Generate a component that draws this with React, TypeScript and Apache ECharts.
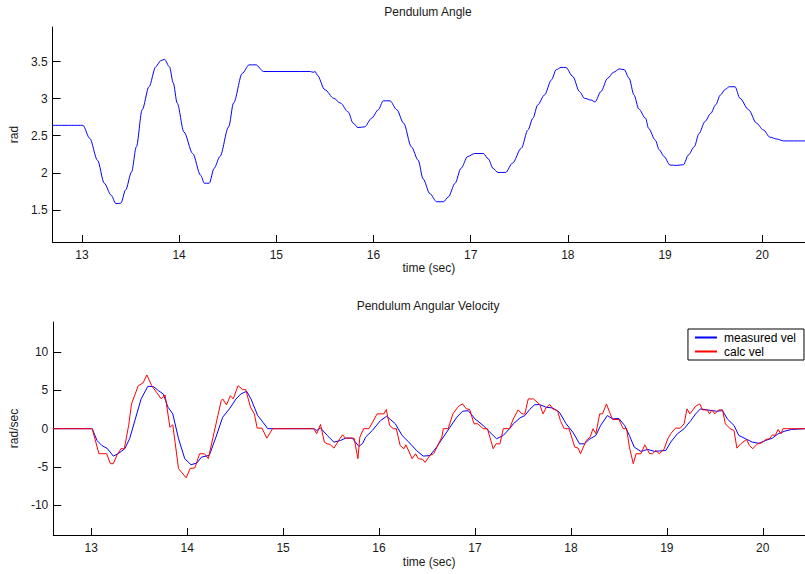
import React, { useEffect, useRef } from "react";
import * as echarts from "echarts";

// Pendulum angle (time sec, rad)
const angle: [number, number][] = [
  [12.6, 2.64], [13.01, 2.64], [13.08, 2.465], [13.16, 2.17], [13.23, 1.86], [13.3, 1.7], [13.35, 1.585],
  [13.4, 1.59], [13.45, 1.77], [13.51, 2.01], [13.56, 2.35], [13.62, 2.85], [13.69, 3.16], [13.76, 3.43],
  [13.81, 3.51], [13.85, 3.53], [13.9, 3.43], [13.94, 3.21], [13.98, 2.94], [14.05, 2.55], [14.14, 2.26],
  [14.22, 1.97], [14.26, 1.86], [14.31, 1.86], [14.36, 2.06], [14.42, 2.22], [14.51, 2.62], [14.56, 2.94],
  [14.65, 3.34], [14.72, 3.455], [14.79, 3.455], [14.87, 3.365], [15.35, 3.365], [15.38, 3.355], [15.4, 3.365],
  [15.42, 3.32], [15.5, 3.12], [15.59, 3.005], [15.66, 2.94], [15.74, 2.82], [15.79, 2.67], [15.84, 2.61],
  [15.91, 2.62], [15.98, 2.735], [16.05, 2.85], [16.1, 2.97], [16.17, 2.97], [16.24, 2.85], [16.31, 2.67],
  [16.39, 2.35], [16.46, 2.17], [16.51, 1.92], [16.58, 1.72], [16.65, 1.61], [16.72, 1.61], [16.77, 1.675],
  [16.84, 1.86], [16.9, 2.06], [16.97, 2.22], [17.04, 2.26], [17.13, 2.26], [17.18, 2.19], [17.23, 2.06],
  [17.28, 2.005], [17.36, 2.005], [17.43, 2.13], [17.52, 2.33], [17.59, 2.58], [17.64, 2.735], [17.69, 2.915],
  [17.76, 3.05], [17.83, 3.25], [17.88, 3.39], [17.93, 3.42], [17.98, 3.42], [18.05, 3.3], [18.12, 3.095],
  [18.17, 3.005], [18.24, 2.98], [18.28, 2.955], [18.34, 3.095], [18.41, 3.275], [18.47, 3.355], [18.53, 3.4],
  [18.58, 3.39], [18.63, 3.275], [18.68, 3.05], [18.73, 2.86], [18.8, 2.735], [18.83, 2.6], [18.9, 2.44],
  [18.94, 2.31], [18.99, 2.22], [19.05, 2.105], [19.12, 2.1], [19.19, 2.11], [19.24, 2.24], [19.3, 2.35],
  [19.35, 2.53], [19.41, 2.69], [19.47, 2.8], [19.52, 2.915], [19.57, 3.05], [19.62, 3.125], [19.66, 3.16],
  [19.72, 3.16], [19.77, 3.005], [19.86, 2.85], [19.94, 2.67], [20.01, 2.58], [20.08, 2.48], [20.15, 2.455],
  [20.22, 2.43], [20.45, 2.43],
];

// Measured angular velocity (time sec, rad/sec)
const measuredVel: [number, number][] = [
  [12.6, 0], [13.01, 0], [13.06, -1.53], [13.11, -2.18], [13.17, -2.61], [13.23, -3.57], [13.28, -3.26],
  [13.35, -2.61], [13.4, -1.31], [13.46, 1.28], [13.52, 3.88], [13.59, 5.52], [13.65, 5.48], [13.7, 4.96],
  [13.75, 4.53], [13.8, 2.8], [13.85, 1.93], [13.91, -1.31], [13.975, -3.91], [14.04, -4.69], [14.1, -4.48],
  [14.15, -3.7], [14.23, -3.48], [14.3, -1.1], [14.37, 1.49], [14.44, 2.58], [14.51, 3.88], [14.56, 4.53],
  [14.62, 4.87], [14.665, 3.88], [14.735, 1.71], [14.79, 0.84], [14.84, 0], [15.32, 0], [15.35, -0.23],
  [15.39, 0.1], [15.46, -0.88], [15.53, -1.75], [15.6, -1.53], [15.65, -1.23], [15.72, -1.23], [15.79, -2.31],
  [15.83, -1.9], [15.86, -1.1], [15.93, -0.23], [16.015, 1.06], [16.08, 1.62], [16.17, 0.64], [16.24, -0.88],
  [16.31, -1.75], [16.39, -2.83], [16.46, -3.57], [16.53, -3.5], [16.6, -2.4], [16.67, -1.1], [16.74, 0.2],
  [16.81, 1.49], [16.87, 2.27], [16.93, 2.35], [17.0, 1.28], [17.085, 0.42], [17.155, -0.45], [17.225, -1.31],
  [17.295, -0.88], [17.36, 0], [17.4, 0.64], [17.47, 1.41], [17.52, 1.71], [17.57, 2.5], [17.62, 3.1],
  [17.67, 3.15], [17.74, 2.8], [17.81, 2.7], [17.88, 2.15], [17.95, 0.64], [18.02, -0.45], [18.09, -1.97],
  [18.14, -1.97], [18.19, -1.4], [18.26, -0.88], [18.31, 0.42], [18.38, 1.71], [18.435, 1.28], [18.5, 1.33],
  [18.56, 0.42], [18.61, -0.88], [18.66, -2.4], [18.73, -2.96], [18.8, -2.7], [18.87, -2.96], [18.99, -2.83],
  [19.04, -1.75], [19.11, -0.66], [19.18, 0], [19.25, 1.06], [19.3, 1.93], [19.35, 2.58], [19.42, 2.45],
  [19.47, 2.36], [19.52, 2.27], [19.58, 2.36], [19.63, 1.28], [19.7, 0.42], [19.75, -0.88], [19.82, -1.31],
  [19.89, -1.75], [19.96, -1.9], [20.03, -1.53], [20.1, -1.23], [20.16, -0.66], [20.23, -0.32], [20.3, -0.1],
  [20.45, 0],
];

// Calculated angular velocity (time sec, rad/sec)
const calcVel: [number, number][] = [
  [12.6, 0], [13.01, 0], [13.08, -3.26], [13.16, -3.26], [13.2, -4.56], [13.23, -4.56], [13.27, -3.39],
  [13.31, -2.61], [13.345, -2.61], [13.39, 0.42], [13.42, 3.23], [13.49, 5.6], [13.54, 5.96], [13.58, 7.0],
  [13.63, 5.6], [13.68, 4.74], [13.73, 3.88], [13.77, 4.4], [13.82, 0.2], [13.85, 0.5], [13.91, -5.2],
  [13.99, -6.4], [14.03, -5.2], [14.08, -5.1], [14.13, -3.26], [14.18, -3.26], [14.22, -3.91], [14.27, -1.1],
  [14.32, 1.71], [14.355, 3.66], [14.37, 3.88], [14.41, 3.1], [14.45, 4.3], [14.48, 3.88], [14.53, 5.6],
  [14.58, 5.09], [14.61, 5.09], [14.66, 2.8], [14.7, 1.93], [14.73, 0.07], [14.78, 0.07], [14.83, -1.23],
  [14.89, 0], [15.32, 0], [15.35, -0.66], [15.39, 0.55], [15.43, -1.75], [15.46, -1.97], [15.49, -2.05],
  [15.53, -2.53], [15.58, -1.53], [15.62, -0.8], [15.65, -1.23], [15.74, -1.23], [15.78, -3.91], [15.8, -1.1],
  [15.84, 0], [15.895, 0], [15.98, 1.93], [16.05, 1.93], [16.075, 2.5], [16.11, 0.42], [16.15, 0], [16.18, 0],
  [16.22, -2.18], [16.26, -2.61], [16.28, -2.1], [16.345, -3.91], [16.38, -3.26], [16.41, -3.91],
  [16.455, -4.0], [16.48, -4.39], [16.53, -3.48], [16.57, -3.26], [16.62, -1.97], [16.655, -1.1], [16.67, 0],
  [16.72, 0], [16.77, 1.93], [16.83, 2.93], [16.87, 3.23], [16.91, 2.58], [16.945, 2.5], [16.99, 0.64],
  [17.03, 0.64], [17.085, 0], [17.13, 0], [17.19, -2.61], [17.22, -1.97], [17.26, -1.97], [17.295, 0],
  [17.36, 0], [17.4, 1.28], [17.45, 2.45], [17.49, 1.93], [17.52, 1.93], [17.555, 3.88], [17.61, 3.88],
  [17.675, 3.15], [17.71, 1.93], [17.74, 2.7], [17.78, 3.15], [17.81, 2.58], [17.86, 2.36], [17.89, 1.06],
  [17.93, 0], [17.98, 0], [18.04, -2.4], [18.075, -2.53], [18.1, -3.26], [18.16, -1.53], [18.2, -1.1],
  [18.23, 0], [18.26, -0.66], [18.3, 1.93], [18.33, 1.93], [18.37, 3.23], [18.41, 1.93], [18.435, 1.2],
  [18.5, 1.2], [18.545, 0], [18.58, 0], [18.61, -2.4], [18.65, -4.56], [18.68, -3.26], [18.73, -3.26],
  [18.77, -2.1], [18.82, -3.26], [18.85, -3.26], [18.885, -2.83], [18.92, -3.26], [18.97, -2.7],
  [19.01, -1.31], [19.04, -0.66], [19.09, 0.07], [19.14, 0.07], [19.18, 0.64], [19.21, 2.58], [19.24, 1.93],
  [19.3, 2.93], [19.345, 3.23], [19.37, 2.45], [19.42, 2.45], [19.445, 1.93], [19.47, 2.45], [19.5, 1.93],
  [19.54, 2.45], [19.58, 2.45], [19.61, 0.64], [19.66, 0], [19.7, -0.23], [19.73, -2.53], [19.77, -1.97],
  [19.83, -1.4], [19.86, -2.18], [19.895, -2.61], [19.945, -1.97], [19.99, -1.84], [20.03, -1.4],
  [20.07, -1.31], [20.1, -0.8], [20.13, -0.88], [20.16, -0.1], [20.19, -0.66], [20.21, 0], [20.45, 0],
];

const timeTicks = [13, 14, 15, 16, 17, 18, 19, 20];
const angleTicks = [1.5, 2, 2.5, 3, 3.5];
const velTicks = [-10, -5, 0, 5, 10];

const FONT = "'Liberation Sans', Arial, Helvetica, sans-serif";
const TXT = "#1a1a1a";
const FS = 12;
const BLUE = "#0000ff";
const RED = "#ff0000";

function xAxisCfg(gridIndex: number, min: number, nameGap: number) {
  return {
    type: "value",
    gridIndex,
    min,
    max: 20.44,
    name: "time (sec)",
    nameLocation: "middle",
    nameGap,
    nameTextStyle: { fontSize: FS, color: TXT, fontFamily: FONT },
    axisLine: { show: true, onZero: false, lineStyle: { color: "#000", width: 1 } },
    axisTick: { show: true, inside: true, length: 7, customValues: timeTicks, lineStyle: { color: "#000" } },
    axisLabel: { customValues: timeTicks, margin: 7, fontSize: FS, color: TXT, fontFamily: FONT },
    splitLine: { show: false },
  };
}

function yAxisCfg(gridIndex: number, min: number, max: number, ticks: number[], name: string) {
  return {
    type: "value",
    gridIndex,
    min,
    max,
    name,
    nameLocation: "middle",
    nameGap: 26,
    nameTextStyle: { fontSize: FS, color: TXT, fontFamily: FONT },
    axisLine: { show: true, onZero: false, lineStyle: { color: "#000", width: 1 } },
    axisTick: { show: true, inside: true, length: 8, customValues: ticks, lineStyle: { color: "#000" } },
    axisLabel: { customValues: ticks, margin: 5, fontSize: FS, color: TXT, fontFamily: FONT },
    splitLine: { show: false },
  };
}

export default function App() {
  const ref = useRef<HTMLDivElement>(null);
  useEffect(() => {
    if (!ref.current) return;
    const chart = echarts.init(ref.current, undefined, { renderer: "svg" });
    chart.setOption({
      animation: false,
      backgroundColor: "#fff",
      textStyle: { fontFamily: FONT },
      title: [
        {
          text: "Pendulum Angle",
          left: 428,
          top: 6,
          padding: 0,
          textAlign: "center",
          textStyle: { fontSize: FS, fontWeight: "normal", color: TXT, fontFamily: FONT },
        },
        {
          text: "Pendulum Angular Velocity",
          left: 428,
          top: 300,
          padding: 0,
          textAlign: "center",
          textStyle: { fontSize: FS, fontWeight: "normal", color: TXT, fontFamily: FONT },
        },
      ],
      legend: {
        data: [
          { name: "measured vel", icon: "rect", itemStyle: { color: BLUE, borderWidth: 0 } },
          { name: "calc vel", icon: "rect", itemStyle: { color: RED, borderWidth: 0 } },
        ],
        orient: "vertical",
        right: 1,
        top: 329,
        padding: [2, 8, 2, 7],
        itemGap: 1,
        itemWidth: 22,
        itemHeight: 2,
        borderColor: "#000",
        borderWidth: 1,
        backgroundColor: "#fff",
        textStyle: { fontSize: FS, color: "#000", fontFamily: FONT, lineHeight: 13, padding: [0, 0, 0, 2] },
      },
      grid: [
        { left: 50, right: 0, top: 27, height: 215 },
        { left: 50, right: 0, top: 322, height: 213 },
      ],
      xAxis: [xAxisCfg(0, 12.698, 19), xAxisCfg(1, 12.604, 21)],
      yAxis: [
        yAxisCfg(0, 1.068, 3.965, angleTicks, "rad"),
        yAxisCfg(1, -13.85, 13.9, velTicks, "rad/sec"),
      ],
      series: [
        {
          name: "angle",
          type: "line",
          xAxisIndex: 0,
          yAxisIndex: 0,
          data: angle,
          symbol: "none",
          smooth: 0.3,
          smoothMonotone: "x",
          lineStyle: { color: BLUE, width: 1 },
          itemStyle: { color: BLUE },
        },
        {
          name: "measured vel",
          type: "line",
          xAxisIndex: 1,
          yAxisIndex: 1,
          data: measuredVel,
          symbol: "none",
          lineStyle: { color: BLUE, width: 1 },
          itemStyle: { color: BLUE },
        },
        {
          name: "calc vel",
          type: "line",
          xAxisIndex: 1,
          yAxisIndex: 1,
          data: calcVel,
          symbol: "none",
          lineStyle: { color: RED, width: 1 },
          itemStyle: { color: RED },
        },
      ],
    });
    return () => chart.dispose();
  }, []);
  return (
    <div
      ref={ref}
      style={{ position: "fixed", left: 0, top: 0, width: 805, height: 574, background: "#fff" }}
    />
  );
}
